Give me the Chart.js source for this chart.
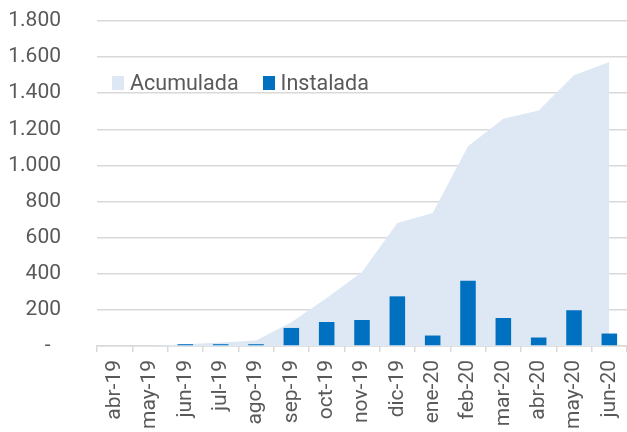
<!DOCTYPE html>
<html>
<head>
<meta charset="utf-8">
<script src="https://cdn.jsdelivr.net/npm/chart.js@4"></script>
<style>
  html, body { margin: 0; padding: 0; background: #fff; }
  #wrap { position: relative; width: 627px; height: 432px; }
  #legend { position: absolute; left: 112px; top: 70px; font: 21.5px Roboto, sans-serif; color: #595959; display: flex; }
  #legend .item { display: flex; align-items: center; margin-right: 24px; }
  #legend .box { width: 12px; height: 14px; margin-right: 6px; }
</style>
</head>
<body>
<div id="wrap">
  <canvas id="chart" width="627" height="432"></canvas>
  <div id="legend"></div>
</div>
<script>
// ---- data ----
const months = ['abr-19','may-19','jun-19','jul-19','ago-19','sep-19','oct-19','nov-19',
                'dic-19','ene-20','feb-20','mar-20','abr-20','may-20','jun-20'];
const instalada = [0, 0, 10, 10, 10, 100, 133, 144, 275, 58, 362, 155, 47, 198, 69];
const acumulada = [0, 0, 10, 20, 30, 132, 266, 410, 681, 736, 1106, 1259, 1305, 1500, 1573];
const yTicks = [0, 200, 400, 600, 800, 1000, 1200, 1400, 1600, 1800];

const AREA = '#DDE8F4';
const BAR = '#0070C0';
const GRID = '#D9D9D9';
const TEXT = '#595959';

const fmt = v => v === 0 ? '-  ' : v.toString().replace(/\B(?=(\d{3})+(?!\d))/g, '.');

const chart = new Chart(document.getElementById('chart'), {
  type: 'bar',
  data: {
    labels: months,
    datasets: [
      {
        type: 'line',
        label: 'Acumulada',
        data: acumulada,
        fill: 'origin',
        backgroundColor: AREA,
        borderWidth: 0,
        pointRadius: 0,
        tension: 0,
        order: 2
      },
      {
        label: 'Instalada',
        data: instalada,
        backgroundColor: BAR,
        barPercentage: 0.44,
        categoryPercentage: 1,
        order: 1
      }
    ]
  },
  options: {
    responsive: false,
    animation: false,
    layout: { padding: { top: 21, right: 0, bottom: 0, left: 0 } },
    plugins: { legend: { display: false }, tooltip: { enabled: false } },
    scales: {
      x: {
        offset: true,
        grid: { offset: true, drawOnChartArea: false, color: GRID, lineWidth: 1.5, tickLength: 6 },
        border: { color: GRID, width: 1.5 },
        ticks: { color: TEXT, font: { family: 'Roboto', size: 21 }, minRotation: 90, maxRotation: 90, padding: 8, autoSkip: false },
        afterFit: s => { s.height = 86; s.paddingLeft = 0; s.paddingRight = 0; }
      },
      y: {
        min: 0,
        max: 1800,
        afterBuildTicks: s => { s.ticks = yTicks.map(v => ({ value: v })); },
        grid: { color: GRID, lineWidth: 1.5, drawTicks: false },
        border: { display: false },
        ticks: { color: TEXT, font: { family: 'Roboto', size: 21 }, padding: 36, callback: fmt },
        afterFit: s => { s.width = 97; s.paddingTop = 0; s.paddingBottom = 0; }
      }
    }
  }
});

// html legend from the datasets
document.getElementById('legend').innerHTML = chart.data.datasets.map(d => `
  <div class="item"><div class="box" style="background:${d.backgroundColor}"></div><span>${d.label}</span></div>
`).join('');
</script>
</body>
</html>
